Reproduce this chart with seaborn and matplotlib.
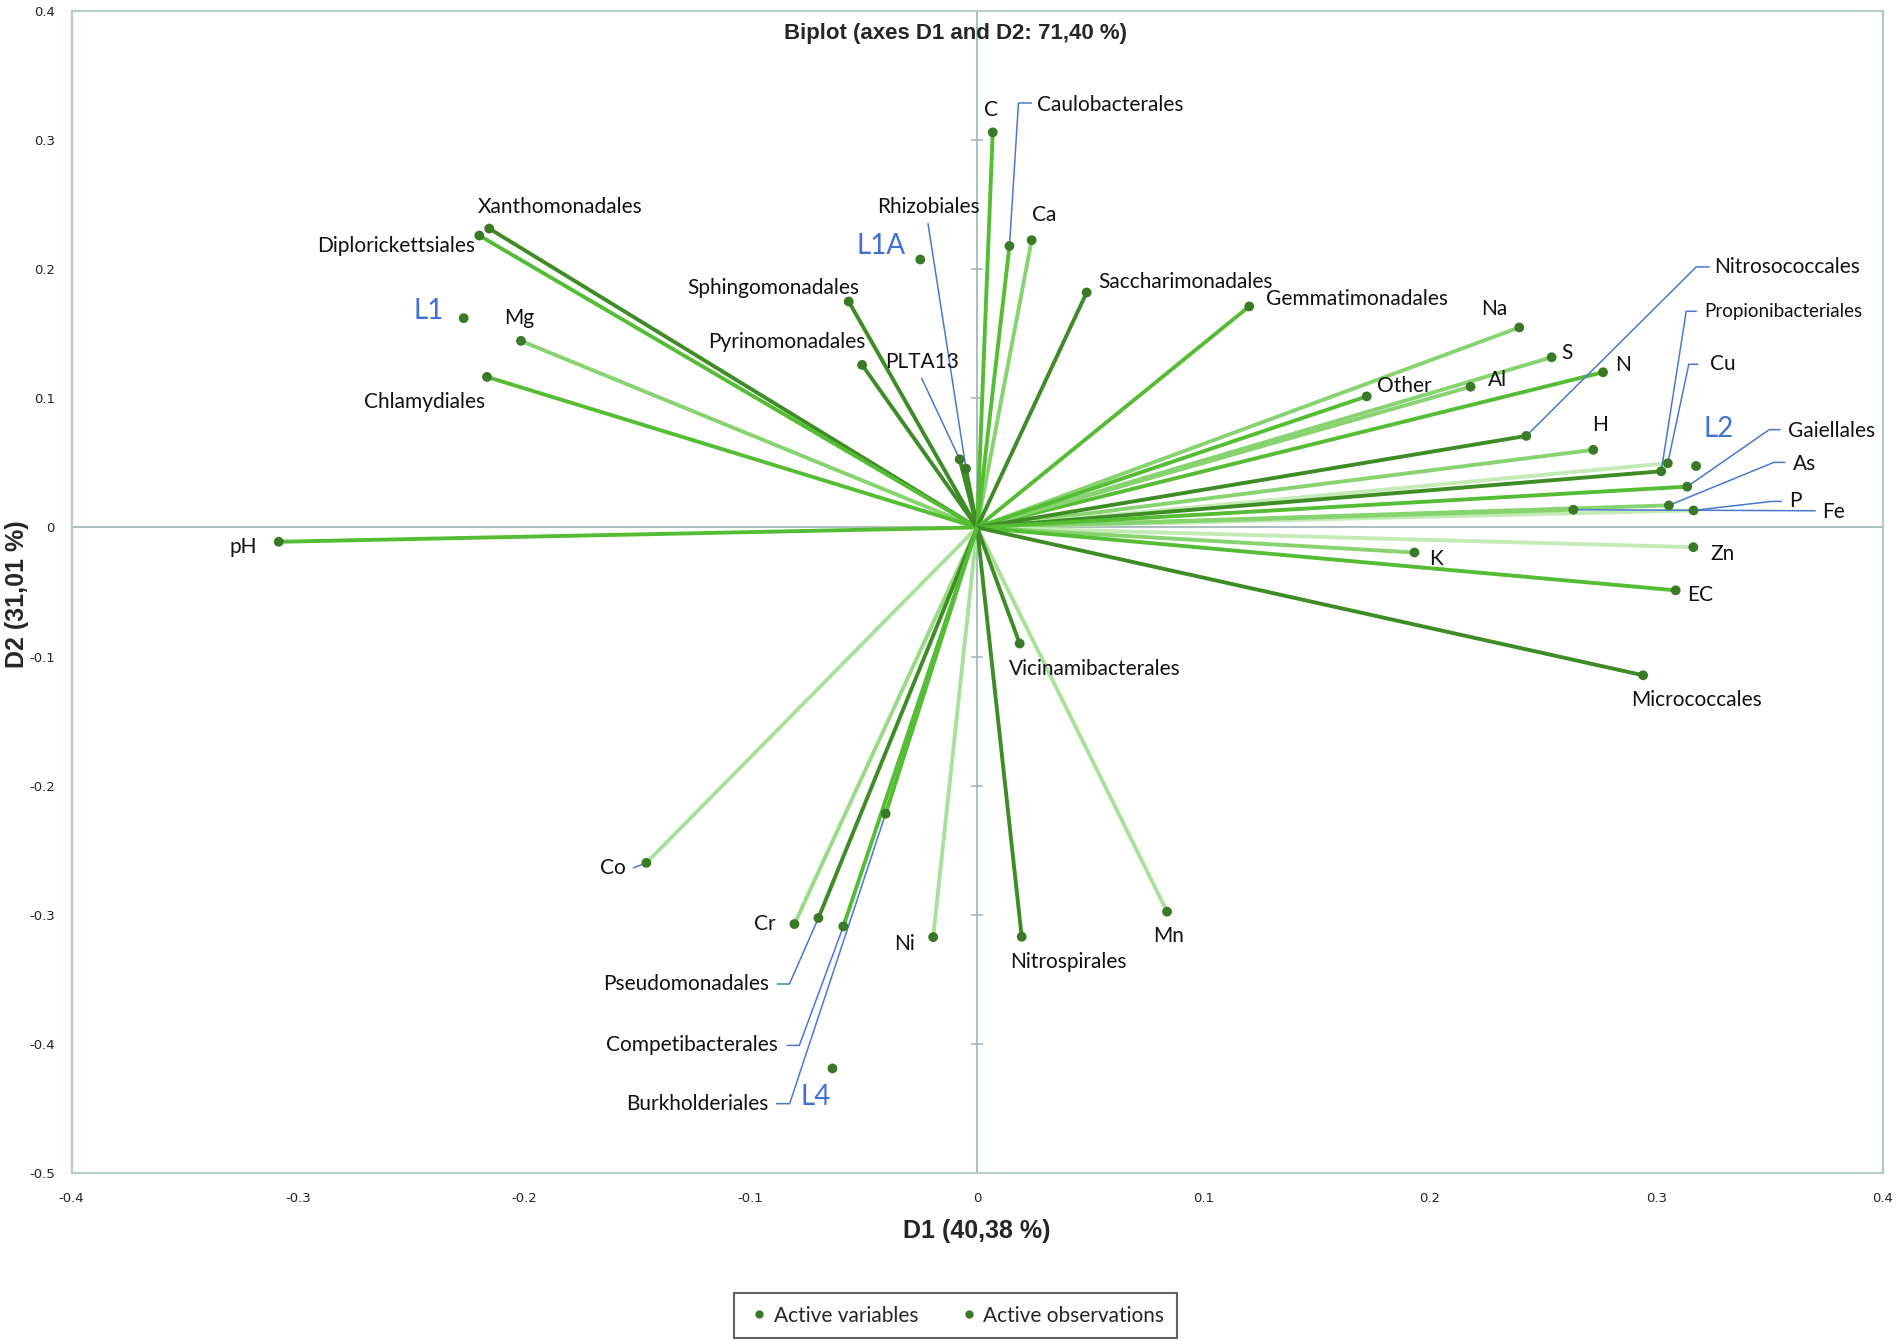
import numpy as np
import pandas as pd
import matplotlib
matplotlib.use("Agg")
import matplotlib.pyplot as plt
import seaborn as sns
from matplotlib.lines import Line2D

# ---------------- data ----------------
var_names = ["pH", "Mg", "Na", "S", "N", "Al", "H", "Cu", "As", "P", "Fe", "Zn", "K", "EC",
             "Mn", "Ni", "Cr", "Co", "C", "Ca", "Other",
             "Xanthomonadales", "Diplorickettsiales", "Chlamydiales", "Sphingomonadales",
             "Pyrinomonadales", "PLTA13", "Rhizobiales", "Caulobacterales", "Saccharimonadales",
             "Gemmatimonadales", "Nitrosococcales", "Propionibacteriales", "Gaiellales",
             "Micrococcales", "Vicinamibacterales", "Nitrospirales", "Pseudomonadales",
             "Competibacterales", "Burkholderiales"]
var_d1 = [-0.3085, -0.2015, 0.2395, 0.2538, 0.2765, 0.2180, 0.2722, 0.3051, 0.3056, 0.3165,
          0.2634, 0.3164, 0.1932, 0.3086, 0.0839, -0.0194, -0.0807, -0.1461, 0.0069, 0.0241,
          0.1721, -0.2155, -0.2199, -0.2165, -0.0567, -0.0508, -0.0077, -0.0049, 0.0143,
          0.0484, 0.1202, 0.2426, 0.3022, 0.3137, 0.2942, 0.0188, 0.0197, -0.0701, -0.0591,
          -0.0404]
var_d2 = [-0.0111, 0.1445, 0.1549, 0.1318, 0.1202, 0.1090, 0.0601, 0.0497, 0.0171, 0.0132,
          0.0137, -0.0153, -0.0194, -0.0487, -0.2976, -0.3173, -0.3072, -0.2598, 0.3060, 0.2225,
          0.1015, 0.2315, 0.2261, 0.1166, 0.1750, 0.1259, 0.0528, 0.0456, 0.2180,
          0.1820, 0.1712, 0.0709, 0.0435, 0.0316, -0.1145, -0.0899, -0.3170, -0.3025, -0.3090,
          -0.2217]

obs_names = ["L1", "L1A", "L2", "L4"]
obs_d1 = [-0.2268, -0.0251, 0.3176, -0.0639]
obs_d2 = [0.1621, 0.2075, 0.0476, -0.4190]

x_ticks = [-0.4, -0.3, -0.2, -0.1, 0, 0.1, 0.2, 0.3, 0.4]
y_ticks = [-0.5, -0.4, -0.3, -0.2, -0.1, 0, 0.1, 0.2, 0.3, 0.4]

title = "Biplot (axes D1 and D2: 71,40 %)"
xlabel = "D1 (40,38 %)"
ylabel = "D2 (31,01 %)"
legend_labels = ["Active variables", "Active observations"]

# ---------------- styles ----------------
shade = {"dark": "#3e8c26", "mid": "#55bd33", "light": "#86d36f", "pale": "#c4eab8"}
line_shade = {
    "pH": "mid", "Mg": "light", "Na": "light", "S": "light", "N": "mid", "Al": "light",
    "H": "light", "Cu": "pale", "As": "light", "P": "pale", "Fe": "light", "Zn": "pale",
    "K": "light", "EC": "mid", "Mn": "light", "Ni": "light", "Cr": "light", "Co": "light",
    "C": "mid", "Ca": "light", "Other": "mid",
    "Xanthomonadales": "dark", "Diplorickettsiales": "mid", "Chlamydiales": "mid",
    "Sphingomonadales": "dark", "Pyrinomonadales": "dark", "PLTA13": "dark",
    "Rhizobiales": "dark", "Caulobacterales": "mid", "Saccharimonadales": "dark",
    "Gemmatimonadales": "mid", "Nitrosococcales": "dark", "Propionibacteriales": "dark",
    "Gaiellales": "mid", "Micrococcales": "dark", "Vicinamibacterales": "dark",
    "Nitrospirales": "dark", "Pseudomonadales": "dark", "Competibacterales": "mid",
    "Burkholderiales": "mid",
}
line_alpha_override = {"Mn": "#a9e09a", "Ni": "#a9e09a", "Co": "#a9e09a", "Cr": "#99da85"}

# label offsets in pixels from the point (dx right, dy down), ha
plain_labels = {
    "pH": (-35, 5, "center"), "Mg": (-2, -23, "center"), "Na": (-25, -18, "center"),
    "S": (15, -4, "center"), "N": (20, -7, "center"), "Al": (27, -7, "center"),
    "H": (7, -25, "center"), "Zn": (29, 7, "center"), "K": (22, 7, "center"),
    "EC": (24, 5, "center"), "Mn": (2, 24, "center"), "Ni": (-29, 7, "center"),
    "Cr": (-30, 0, "center"), "C": (-2, -22, "center"), "Ca": (13, -25, "center"),
    "Other": (38, -10, "center"), "Xanthomonadales": (71, -22, "center"),
    "Diplorickettsiales": (-83, 10, "center"), "Chlamydiales": (-62, 25, "center"),
    "Sphingomonadales": (-75, -14, "center"), "Pyrinomonadales": (-75, -23, "center"),
    "Saccharimonadales": (12, -10, "left"), "Gemmatimonadales": (17, -7, "left"),
    "Micrococcales": (53, 25, "center"), "Vicinamibacterales": (75, 25, "center"),
    "Nitrospirales": (47, 25, "center"),
}
# leader labels: text offset (dx, dy, ha), path offsets
leader_labels = {
    "Caulobacterales": ((28, -141, "left"), [(9, -143), (22, -143)]),
    "Rhizobiales": ((-38, -262, "center"), [(-38, -245)]),
    "PLTA13": ((-38, -97, "center"), [(-38, -81)]),
    "Nitrosococcales": ((188, -169, "left"), [(170, -169), (183, -169)]),
    "Propionibacteriales": ((43, -160, "left"), [(25, -160), (35, -160)]),
    "Cu": ((42, -99, "left"), [(21, -99), (30, -99)]),
    "Gaiellales": ((101, -56, "left"), [(82, -57), (93, -57)]),
    "As": ((124, -41, "left"), [(105, -43), (116, -43)]),
    "P": ((96, -9, "left"), [(78, -9), (88, -9)]),
    "Fe": ((249, 2, "left"), [(242, 1)]),
    "Co": ((-33, 5, "center"), [(-13, 5)]),
    "Pseudomonadales": ((-49, 66, "right"), [(-29, 66), (-41, 66)]),
    "Competibacterales": ((-65, 119, "right"), [(-44, 119), (-56, 119)]),
    "Burkholderiales": ((-117, 290, "right"), [(-96, 290), (-109, 290)]),
}
label_size_override = {"Propionibacteriales": 13.5}
obs_label_offsets = {"L1": (-35, -7), "L1A": (-39, -14), "L2": (23, -37), "L4": (-17, 29)}

W, H = 1902, 1344
dot_color = "#3a7a27"
leader_color = "#4a78cf"
obs_color = "#3f6fd8"
label_font = ["Lato", "DejaVu Sans"]
label_size = 15

sns.set_theme(style="white")
plt.rcParams["font.family"] = ["DejaVu Sans"]

fig = plt.figure(figsize=(W / 100, H / 100), dpi=100)
ax = fig.add_axes([71.6 / W, 1 - 1173 / H, (1882.6 - 71.6) / W, (1173 - 11) / H])
ax.set_xlim(-0.4, 0.4)
ax.set_ylim(-0.5, 0.4)

for s in ax.spines.values():
    s.set_color("#b9cccd")
    s.set_linewidth(1.6)
ax.axhline(0, color="#a3b8ba", lw=1.3, zorder=1)
ax.axvline(0, color="#a3b8ba", lw=1.3, zorder=1)

# lines from origin
for n, x, y in zip(var_names, var_d1, var_d2):
    c = line_alpha_override.get(n, shade[line_shade[n]])
    ax.plot([0, x], [0, y], color=c, lw=2.8, solid_capstyle="butt", zorder=2)

df_var = pd.DataFrame({"D1": var_d1, "D2": var_d2, "kind": legend_labels[0]})
df_obs = pd.DataFrame({"D1": obs_d1, "D2": obs_d2, "kind": legend_labels[1]})
sns.scatterplot(data=df_var, x="D1", y="D2", color=dot_color, s=50, edgecolor="none",
                ax=ax, zorder=4, legend=False)
sns.scatterplot(data=df_obs, x="D1", y="D2", color=dot_color, s=50, edgecolor="none",
                ax=ax, zorder=4, legend=False)

# tick marks on the vertical zero axis
for t in y_ticks:
    if t in (0, -0.5, 0.4):
        continue
    ax.plot([0], [t], marker="_", ms=9, mew=1.2, color="#a3b8ba", zorder=1)

ax.set_xticks(x_ticks)
ax.set_yticks(y_ticks)
ax.set_xticklabels([("%g" % t) for t in x_ticks])
ax.set_yticklabels([("%g" % t) for t in y_ticks])
ax.tick_params(axis="both", length=0, labelsize=9.5, colors="#222222")
ax.tick_params(axis="x", pad=14)
ax.tick_params(axis="y", pad=12)
ax.set_xlabel("")
ax.set_ylabel("")

fig.canvas.draw()
to_disp = ax.transData.transform
to_data = ax.transData.inverted().transform


def off(x, y, dx, dy):
    X, Y = to_disp((x, y))
    return to_data((X + dx, Y - dy))


pos = {n: (x, y) for n, x, y in zip(var_names, var_d1, var_d2)}

for n, (dx, dy, ha) in plain_labels.items():
    x, y = pos[n]
    tx, ty = off(x, y, dx, dy)
    ax.text(tx, ty, n, ha=ha, va="center", fontsize=label_size_override.get(n, label_size),
            family=label_font, color="#111111", zorder=5)

for n, ((dx, dy, ha), path) in leader_labels.items():
    x, y = pos[n]
    pts = [(x, y)] + [tuple(off(x, y, px, py)) for px, py in path]
    ax.plot([p[0] for p in pts], [p[1] for p in pts], color=leader_color, lw=1.1, zorder=3)
    tx, ty = off(x, y, dx, dy)
    ax.text(tx, ty, n, ha=ha, va="center", fontsize=label_size_override.get(n, label_size),
            family=label_font, color="#111111", zorder=5)

for n, x, y in zip(obs_names, obs_d1, obs_d2):
    dx, dy = obs_label_offsets[n]
    tx, ty = off(x, y, dx, dy)
    ax.text(tx, ty, n, ha="center", va="center", fontsize=20, family=label_font,
            color=obs_color, zorder=5)

fig.text(956 / W, 1 - 34 / H, title, ha="center", va="center", fontsize=16,
         fontweight="bold", family=["Liberation Sans", "DejaVu Sans"])
fig.text(977 / W, 1 - 1231 / H, xlabel, ha="center", va="center", fontsize=18,
         fontweight="bold", family=["Liberation Sans", "DejaVu Sans"])
fig.text(17 / W, 1 - 594 / H, ylabel, ha="center", va="center", rotation=90, fontsize=18,
         fontweight="bold", family=["Liberation Sans", "DejaVu Sans"])

handles = [Line2D([], [], marker="o", ls="none", color=dot_color, ms=5) for _ in legend_labels]
leg = fig.legend(handles, legend_labels, loc="center", bbox_to_anchor=(955.5 / W, 1 - 1315.5 / H),
                 ncol=2, frameon=True, fancybox=False, handletextpad=0.1, columnspacing=1.8,
                 handlelength=1.2, borderpad=0.6, borderaxespad=0,
                 prop={"family": label_font, "size": 15})
leg.get_frame().set_edgecolor("#3a3a3a")
leg.get_frame().set_linewidth(1.5)

fig.savefig("out.png", dpi=100)
